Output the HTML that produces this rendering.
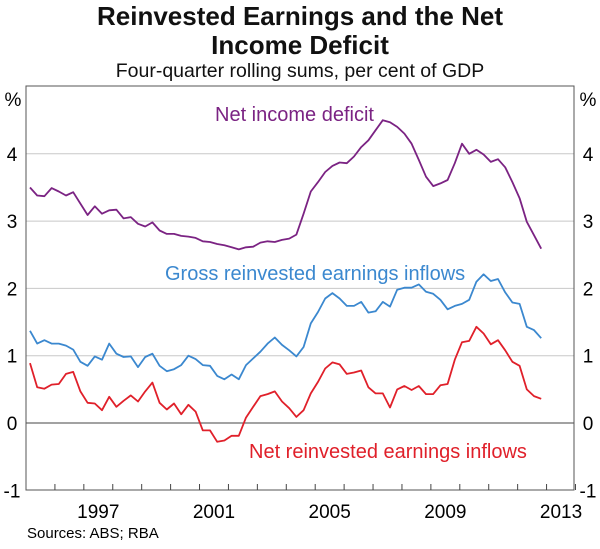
<!DOCTYPE html>
<html><head><meta charset="utf-8"><style>
body{margin:0;background:#fff;}
svg text{font-family:"Liberation Sans",Arial,sans-serif;}
</style></head><body>
<svg id="chart" width="600" height="544" viewBox="0 0 600 544" xmlns="http://www.w3.org/2000/svg">
<text x="300" y="25" text-anchor="middle" font-size="26" font-weight="bold" fill="#111">Reinvested Earnings and the Net</text>
<text x="300" y="54" text-anchor="middle" font-size="26" font-weight="bold" fill="#111">Income Deficit</text>
<text x="300" y="77" text-anchor="middle" font-size="19.5" fill="#111">Four-quarter rolling sums, per cent of GDP</text>
<g id="grid"></g>
<g id="series"></g>
<rect x="26" y="86" width="548" height="404" fill="none" stroke="#555" stroke-width="1"/>
<g id="axes"></g>
<text x="13" y="106" text-anchor="middle" font-size="19">%</text>
<text x="588" y="106" text-anchor="middle" font-size="19">%</text>
<text x="215" y="121" font-size="20" fill="#7b2383">Net income deficit</text>
<text x="165" y="280" font-size="20" fill="#3b88cf">Gross reinvested earnings inflows</text>
<text x="249" y="458" font-size="20" fill="#e0202a">Net reinvested earnings inflows</text>
<text x="27" y="538" font-size="15">Sources: ABS; RBA</text>
</svg>
<script>
const yTicks=[-1,0,1,2,3,4];
const xLabels=["1997","2001","2005","2009","2013"];
const xLabelYears=[1997,2001,2005,2009,2013];
const netIncomeDeficit=[3.5,3.38,3.37,3.49,3.44,3.38,3.43,3.26,3.09,3.22,3.11,3.16,3.17,3.04,3.06,2.96,2.92,2.98,2.86,2.81,2.81,2.78,2.77,2.75,2.70,2.69,2.66,2.64,2.61,2.58,2.61,2.62,2.68,2.70,2.69,2.72,2.74,2.80,3.11,3.44,3.58,3.73,3.82,3.87,3.86,3.96,4.10,4.20,4.35,4.50,4.47,4.40,4.30,4.15,3.91,3.66,3.52,3.56,3.61,3.86,4.15,4.00,4.06,3.99,3.88,3.92,3.80,3.58,3.34,2.99,2.79,2.59];
const grossReinvested=[1.37,1.18,1.23,1.18,1.18,1.15,1.09,0.91,0.85,0.99,0.94,1.18,1.03,0.98,0.99,0.83,0.98,1.03,0.85,0.77,0.80,0.86,1.0,0.95,0.86,0.85,0.70,0.65,0.72,0.65,0.86,0.96,1.06,1.18,1.27,1.16,1.08,0.99,1.13,1.48,1.65,1.85,1.93,1.85,1.74,1.74,1.80,1.64,1.66,1.80,1.73,1.98,2.01,2.01,2.06,1.95,1.92,1.83,1.69,1.74,1.77,1.83,2.10,2.21,2.11,2.14,1.94,1.79,1.77,1.43,1.38,1.26];
const netReinvested=[0.89,0.53,0.51,0.57,0.58,0.73,0.76,0.47,0.30,0.29,0.19,0.39,0.24,0.33,0.41,0.32,0.47,0.60,0.30,0.20,0.29,0.13,0.27,0.17,-0.11,-0.11,-0.28,-0.26,-0.19,-0.19,0.08,0.24,0.40,0.43,0.47,0.32,0.22,0.09,0.19,0.44,0.61,0.81,0.90,0.87,0.73,0.75,0.78,0.53,0.44,0.44,0.23,0.50,0.55,0.49,0.55,0.43,0.43,0.56,0.58,0.94,1.20,1.22,1.43,1.33,1.17,1.23,1.08,0.91,0.85,0.50,0.40,0.36];
const startYear=1994.25;
const NS="http://www.w3.org/2000/svg";
function yScale(v){return 423-v*67.3;}
function xScale(t){return 30+(t-startYear)*28.8;}
function xLabelPos(yr){return 26+(yr-1994-0.5)*28.92;}
const grid=document.getElementById('grid'),axes=document.getElementById('axes'),series=document.getElementById('series');
yTicks.forEach(v=>{
  const y=yScale(v);
  if(v>-1){
    const l=document.createElementNS(NS,'line');
    l.setAttribute('x1',26);l.setAttribute('x2',574);l.setAttribute('y1',y);l.setAttribute('y2',y);
    l.setAttribute('stroke',v===0?'#444':'#c8c8c8');l.setAttribute('stroke-width',1);
    
    
    grid.appendChild(l);
  }
  [12,588].forEach(x=>{
    const t=document.createElementNS(NS,'text');
    t.setAttribute('x',x);t.setAttribute('y',y+7);t.setAttribute('text-anchor','middle');t.setAttribute('font-size','19');
    t.textContent=v;
    
    
    axes.appendChild(t);
  });
});
for(let yr=1995;yr<=2013;yr++){
  const x=26+(yr-1994)*28.92;
  const l=document.createElementNS(NS,'line');
  l.setAttribute('x1',x);l.setAttribute('x2',x);l.setAttribute('y1',484);l.setAttribute('y2',490);
  l.setAttribute('stroke','#444');
  
  
  axes.appendChild(l);
}
xLabels.forEach((s,i)=>{
  const t=document.createElementNS(NS,'text');
  t.setAttribute('x',xLabelPos(xLabelYears[i]));t.setAttribute('y',518);t.setAttribute('text-anchor','middle');t.setAttribute('font-size','19');
  t.textContent=s;
  
  
  axes.appendChild(t);
});
function draw(data,color,name){
  const p=document.createElementNS(NS,'polyline');
  p.setAttribute('points',data.map((v,i)=>xScale(startYear+i*0.25).toFixed(1)+','+yScale(v).toFixed(1)).join(' '));
  p.setAttribute('fill','none');p.setAttribute('stroke',color);p.setAttribute('stroke-width','1.8');p.setAttribute('stroke-linejoin','round');
  
  
  series.appendChild(p);
}
draw(netIncomeDeficit,'#7b2383','net-income-deficit-line');
draw(grossReinvested,'#3b88cf','gross-reinvested-line');
draw(netReinvested,'#e0202a','net-reinvested-line');
</script>
</body></html>
